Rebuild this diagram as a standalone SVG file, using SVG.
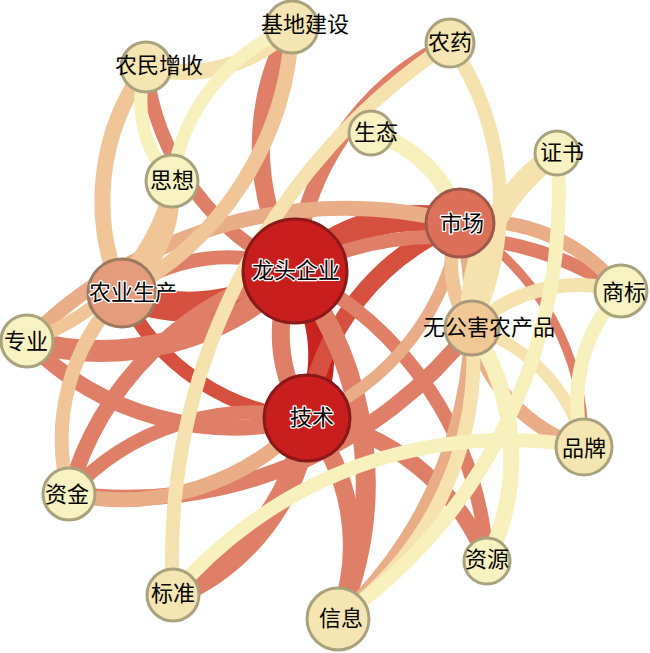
<svg xmlns="http://www.w3.org/2000/svg" width="650" height="653" viewBox="0 0 650 653">
<style>
.e{fill:none;stroke-linecap:butt}
.c7{stroke:#c9231f}.c6{stroke:#d5503f}.c5{stroke:#e07f68}.c4{stroke:#e9ad88}.c3{stroke:#f0c598}.c2{stroke:#f5e2ae}.c1{stroke:#f8f1bd}
.n circle{stroke-width:3}
.ny circle{fill:#f8f2c2;stroke:#aaa27c}
.nt circle{fill:#f5e5b2;stroke:#aaa27c}
text{font-family:"Noto Sans CJK SC","Noto Sans",sans-serif;font-size:22px;text-anchor:middle;fill:#000}
.h text{stroke:#fff;stroke-width:2.5;paint-order:stroke;stroke-linejoin:round}
</style>
<rect width="650" height="653" fill="#fff"/>
<g id="connectors">
<path class="e c7" stroke-width="26" d="M295,271 A147,147 0 0 1 307,418"/>
<path class="e c6" stroke-width="30" d="M295,271 A174,174 0 0 1 122,293"/>
<path class="e c6" stroke-width="26" d="M295,271 A172,172 0 0 1 460,223"/>
<path class="e c6" stroke-width="18" d="M307,418 A248,248 0 0 1 460,223"/>
<path class="e c6" stroke-width="14" d="M307,418 A223,223 0 0 1 122,293"/>
<path class="e c5" stroke-width="18" d="M307,418 A147,147 0 0 1 295,271"/>
<path class="e c5" stroke-width="14" d="M122,293 A174,174 0 0 1 295,271"/>
<path class="e c5" stroke-width="14" d="M295,271 A253,253 0 0 1 146,67"/>
<path class="e c5" stroke-width="18" d="M295,271 A244,244 0 0 1 292,27"/>
<path class="e c5" stroke-width="22" d="M295,271 A277,277 0 0 1 27,341"/>
<path class="e c5" stroke-width="16" d="M307,418 A290,290 0 0 1 27,341"/>
<path class="e c5" stroke-width="14" d="M69,494 A250,250 0 0 1 307,418"/>
<path class="e c5" stroke-width="16" d="M472,328 A436,436 0 0 1 69,494"/>
<path class="e c5" stroke-width="16" d="M69,494 A317,317 0 0 1 295,271"/>
<path class="e c5" stroke-width="24" d="M307,418 A222,222 0 0 1 173,595"/>
<path class="e c5" stroke-width="18" d="M307,418 A203,203 0 0 1 338,619"/>
<path class="e c5" stroke-width="20" d="M295,271 A351,351 0 0 1 338,619"/>
<path class="e c5" stroke-width="14" d="M295,271 A348,348 0 0 1 487,561"/>
<path class="e c5" stroke-width="16" d="M307,418 A230,230 0 0 1 487,561"/>
<path class="e c5" stroke-width="9" d="M460,223 A256,256 0 0 1 584,447"/>
<path class="e c5" stroke-width="14" d="M295,271 A327,327 0 0 1 621,291"/>
<path class="e c5" stroke-width="16" d="M295,271 A276,276 0 0 1 450,43"/>
<path class="e c4" stroke-width="15" d="M27,341 A449,449 0 0 1 460,223"/>
<path class="e c4" stroke-width="12" d="M460,223 A248,248 0 0 1 307,418"/>
<path class="e c4" stroke-width="15" d="M307,418 A250,250 0 0 1 69,494"/>
<path class="e c4" stroke-width="12" d="M460,223 A414,414 0 0 1 338,619"/>
<path class="e c4" stroke-width="14" d="M584,447 A163,163 0 0 1 472,328"/>
<path class="e c4" stroke-width="14" d="M460,223 A175,175 0 0 1 621,291"/>
<path class="e c3" stroke-width="16" d="M122,293 A227,227 0 0 1 146,67"/>
<path class="e c3" stroke-width="15" d="M292,27 A316,316 0 0 1 122,293"/>
<path class="e c3" stroke-width="14" d="M172,181 A123,123 0 0 1 122,293"/>
<path class="e c3" stroke-width="14" d="M69,494 A208,208 0 0 1 122,293"/>
<path class="e c3" stroke-width="13" d="M172,181 A216,216 0 0 1 27,341"/>
<path class="e c3" stroke-width="14" d="M472,328 A106,106 0 0 1 460,223"/>
<path class="e c2" stroke-width="16" d="M292,27 A151,151 0 0 1 146,67"/>
<path class="e c2" stroke-width="14" d="M173,595 A618,618 0 0 1 450,43"/>
<path class="e c2" stroke-width="14" d="M472,328 A320,320 0 0 1 338,619"/>
<path class="e c2" stroke-width="12" d="M472,328 A163,163 0 0 1 584,447"/>
<path class="e c2" stroke-width="14" d="M472,328 A154,154 0 0 1 621,291"/>
<path class="e c2" stroke-width="22" d="M472,328 A195,195 0 0 1 557,153"/>
<path class="e c2" stroke-width="14" d="M450,43 A286,286 0 0 1 472,328"/>
<path class="e c1" stroke-width="13" d="M172,181 A195,195 0 0 1 292,27"/>
<path class="e c1" stroke-width="13" d="M172,181 A117,117 0 0 1 146,67"/>
<path class="e c1" stroke-width="14" d="M173,595 A437,437 0 0 1 584,447"/>
<path class="e c1" stroke-width="14" d="M557,153 A515,515 0 0 1 338,619"/>
<path class="e c1" stroke-width="16" d="M472,328 A233,233 0 0 1 487,561"/>
<path class="e c1" stroke-width="14" d="M584,447 A160,160 0 0 1 621,291"/>
<path class="e c1" stroke-width="16" d="M371,133 A127,127 0 0 1 460,223"/>
</g>
<g id="node-jidi" class="n nt"><circle cx="292" cy="27" r="26"/><text x="305" y="32">基地建设</text></g>
<g id="node-nongmin" class="n nt"><circle cx="146" cy="67" r="25"/><text x="159" y="73">农民增收</text></g>
<g id="node-sixiang" class="n ny"><circle cx="172" cy="181" r="26"/><text x="172" y="188">思想</text></g>
<g id="node-nongyao" class="n nt"><circle cx="450" cy="43" r="24"/><text x="450" y="50">农药</text></g>
<g id="node-shengtai" class="n ny"><circle cx="371" cy="133" r="22"/><text x="376" y="140">生态</text></g>
<g id="node-zhengshu" class="n ny"><circle cx="557" cy="153" r="22"/><text x="562" y="160">证书</text></g>
<g id="node-shangbiao" class="n ny"><circle cx="621" cy="291" r="26"/><text x="624" y="300">商标</text></g>
<g id="node-zhuanye" class="n ny"><circle cx="27" cy="341" r="26"/><text x="26" y="349">专业</text></g>
<g id="node-zijin" class="n ny"><circle cx="69" cy="494" r="26"/><text x="67" y="502">资金</text></g>
<g id="node-biaozhun" class="n nt"><circle cx="173" cy="595" r="26"/><text x="173" y="601">标准</text></g>
<g id="node-xinxi" class="n nt"><circle cx="338" cy="619" r="31"/><text x="341" y="626">信息</text></g>
<g id="node-ziyuan" class="n ny"><circle cx="487" cy="561" r="23"/><text x="487" y="567">资源</text></g>
<g id="node-pinpai" class="n nt"><circle cx="584" cy="447" r="28"/><text x="584" y="456">品牌</text></g>
<g id="node-wugonghai" class="n"><circle cx="472" cy="328" r="27" fill="#f0c896" stroke="#a89a7a"/><text x="489" y="335">无公害农产品</text></g>
<g id="node-nongye" class="n h"><circle cx="122" cy="293" r="34" fill="#e49c7c" stroke="#9a7a60"/><text x="133" y="300">农业生产</text></g>
<g id="node-shichang" class="n h"><circle cx="460" cy="223" r="34" fill="#dd7058" stroke="#a0584a"/><text x="462" y="231">市场</text></g>
<g id="node-longtou" class="n h"><circle cx="295" cy="271" r="52" fill="#c81e1e" stroke="#8a1818"/><text x="296" y="278">龙头企业</text></g>
<g id="node-jishu" class="n h"><circle cx="307" cy="418" r="43" fill="#c81e1e" stroke="#8a1818"/><text x="312" y="425">技术</text></g>
</svg>
